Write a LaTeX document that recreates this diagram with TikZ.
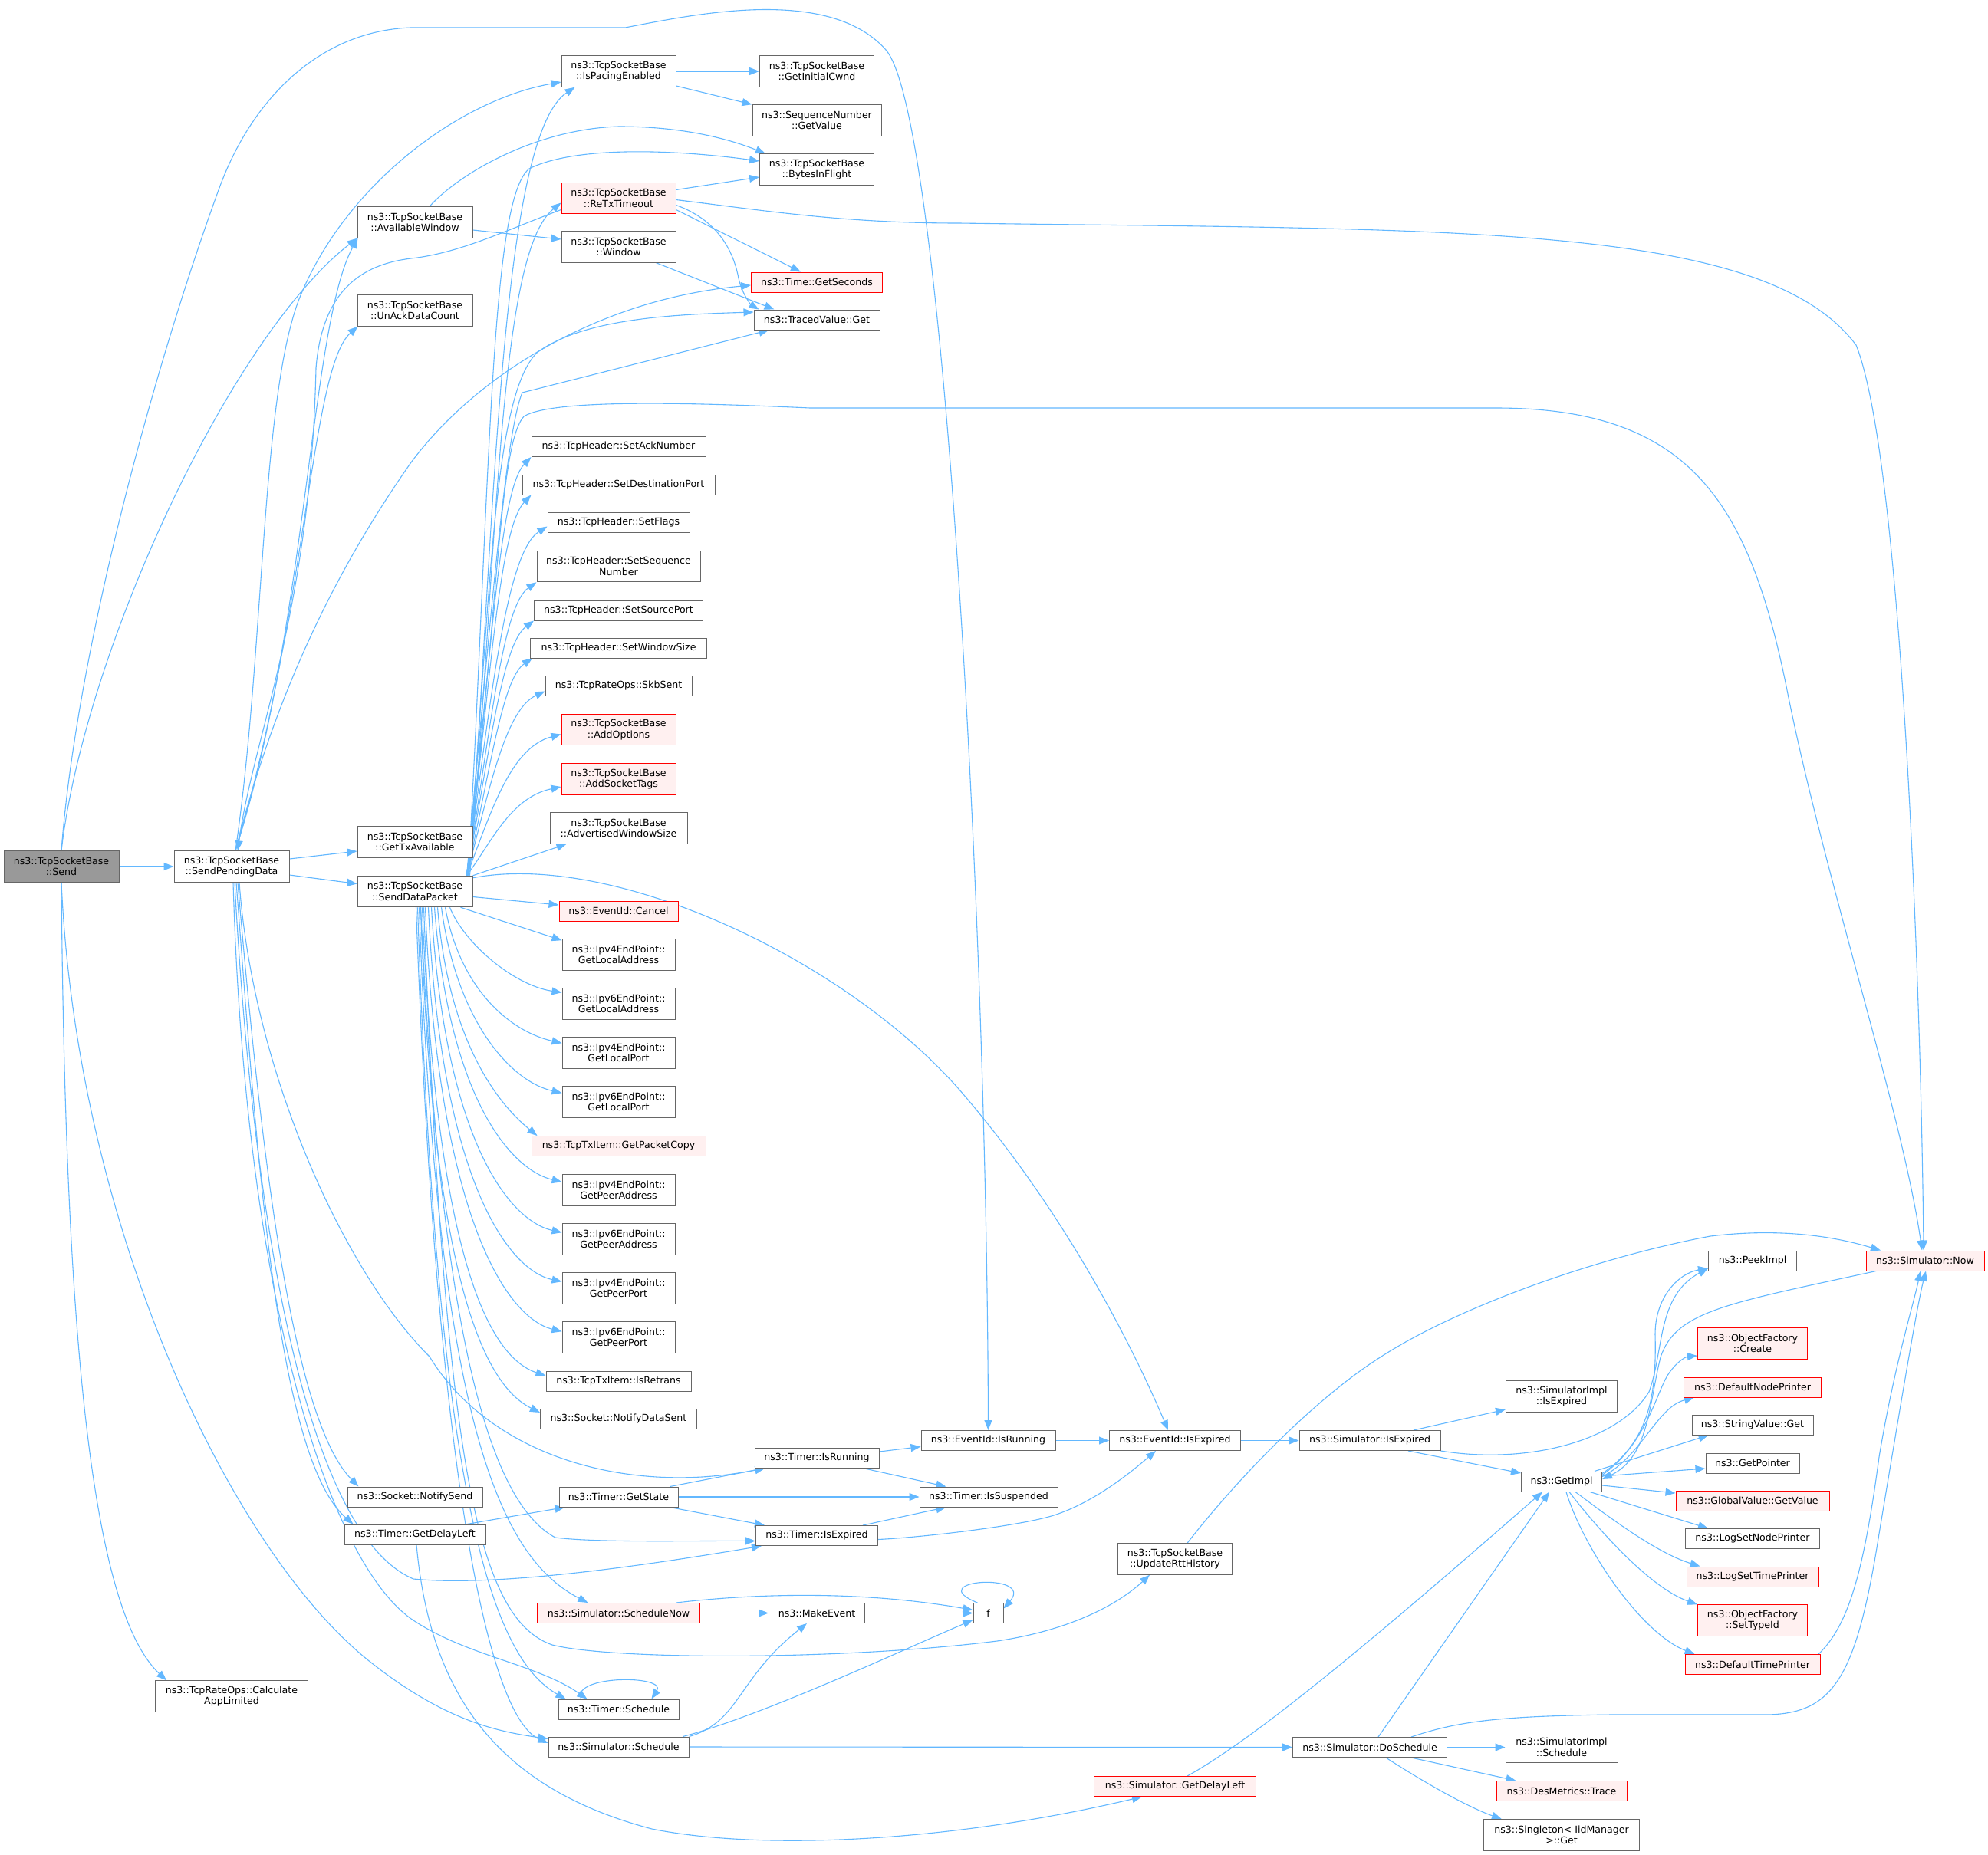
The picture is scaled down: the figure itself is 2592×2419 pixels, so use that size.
\documentclass[tikz,border=0pt]{standalone}
\usepackage{fontspec}
\setmainfont{DejaVu Sans}
\usetikzlibrary{arrows.meta}
\definecolor{edgec}{HTML}{63B8FF}
\definecolor{ndc}{HTML}{666666}
\definecolor{redc}{HTML}{FF0000}
\definecolor{redfill}{HTML}{FFF0F0}
\definecolor{rootfill}{HTML}{999999}
\newcommand\ndfont{\fontsize{12.6}{14.5}\selectfont}
\pgfdeclarelayer{bgfill}
\pgfdeclarelayer{edges}
\pgfsetlayers{bgfill,edges,main}
\tikzset{
  nd/.style={draw=ndc, fill=white, line width=1pt, inner sep=0pt, minimum height=26pt, align=center, font=\ndfont, text=black},
  two/.style={minimum height=40.5pt},
  rednd/.style={draw=redc, fill=redfill},
  rootnd/.style={fill=rootfill},
  e/.style={draw=edgec, line width=1.1pt, -{Triangle[length=13pt,width=10pt]}}
}
\begin{document}
\begin{tikzpicture}[x=1pt,y=-1pt]
\useasboundingbox (0,0) rectangle (2592,2419);
\begin{pgfonlayer}{bgfill}
\fill[white] (0,0) rectangle (2592,2419);
\end{pgfonlayer}
% ---------- nodes ----------
\node[nd,two,rootnd,minimum width=150pt] (send) at (80,1130) {ns3::TcpSocketBase\\::Send};
\node[nd,two,minimum width=150pt] (spd) at (302,1130) {ns3::TcpSocketBase\\::SendPendingData};
\node[nd,two,minimum width=150pt] (avw) at (541,290) {ns3::TcpSocketBase\\::AvailableWindow};
\node[nd,two,minimum width=150pt] (unack) at (541,405) {ns3::TcpSocketBase\\::UnAckDataCount};
\node[nd,two,minimum width=150pt] (gettx) at (541,1098) {ns3::TcpSocketBase\\::GetTxAvailable};
\node[nd,two,minimum width=150pt] (sdp) at (541,1162.5) {ns3::TcpSocketBase\\::SendDataPacket};
\node[nd,minimum width=176pt] (notifysend) at (541,1952) {ns3::Socket::NotifySend};
\node[nd,minimum width=184pt] (tgdl) at (541,2001) {ns3::Timer::GetDelayLeft};
\node[nd,two,minimum width=199pt] (calc) at (302,2212) {ns3::TcpRateOps::Calculate\\AppLimited};
\node[nd,two,minimum width=149pt] (ispacing) at (806.5,93) {ns3::TcpSocketBase\\::IsPacingEnabled};
\node[nd,two,rednd,minimum width=149pt] (retx) at (806.5,258.5) {ns3::TcpSocketBase\\::ReTxTimeout};
\node[nd,two,minimum width=149pt] (window) at (806.5,322) {ns3::TcpSocketBase\\::Window};
\node[nd,minimum width=227pt] (setack) at (806.5,582.5) {ns3::TcpHeader::SetAckNumber};
\node[nd,minimum width=251pt] (setdst) at (806.5,632) {ns3::TcpHeader::SetDestinationPort};
\node[nd,minimum width=185pt] (setflags) at (806.5,681.5) {ns3::TcpHeader::SetFlags};
\node[nd,two,minimum width=213pt] (setseq) at (806.5,738.5) {ns3::TcpHeader::SetSequence\\Number};
\node[nd,minimum width=220pt] (setsrc) at (806.5,796) {ns3::TcpHeader::SetSourcePort};
\node[nd,minimum width=230pt] (setwin) at (806.5,845) {ns3::TcpHeader::SetWindowSize};
\node[nd,minimum width=191pt] (skb) at (806.5,894.5) {ns3::TcpRateOps::SkbSent};
\node[nd,two,rednd,minimum width=149pt] (addopt) at (806.5,951.5) {ns3::TcpSocketBase\\::AddOptions};
\node[nd,two,rednd,minimum width=149pt] (addtags) at (806.5,1016) {ns3::TcpSocketBase\\::AddSocketTags};
\node[nd,two,minimum width=179pt] (advwin) at (806.5,1080) {ns3::TcpSocketBase\\::AdvertisedWindowSize};
\node[nd,rednd,minimum width=155pt] (cancel) at (806.5,1188) {ns3::EventId::Cancel};
\node[nd,two,minimum width=147pt] (v4la) at (806.5,1245) {ns3::Ipv4EndPoint::\\GetLocalAddress};
\node[nd,two,minimum width=147pt] (v6la) at (806.5,1309) {ns3::Ipv6EndPoint::\\GetLocalAddress};
\node[nd,two,minimum width=147pt] (v4lp) at (806.5,1373) {ns3::Ipv4EndPoint::\\GetLocalPort};
\node[nd,two,minimum width=147pt] (v6lp) at (806.5,1437) {ns3::Ipv6EndPoint::\\GetLocalPort};
\node[nd,rednd,minimum width=227pt] (pktcopy) at (806.5,1494.5) {ns3::TcpTxItem::GetPacketCopy};
\node[nd,two,minimum width=147pt] (v4pa) at (806.5,1552) {ns3::Ipv4EndPoint::\\GetPeerAddress};
\node[nd,two,minimum width=147pt] (v6pa) at (806.5,1616) {ns3::Ipv6EndPoint::\\GetPeerAddress};
\node[nd,two,minimum width=147pt] (v4pp) at (806.5,1680) {ns3::Ipv4EndPoint::\\GetPeerPort};
\node[nd,two,minimum width=147pt] (v6pp) at (806.5,1744) {ns3::Ipv6EndPoint::\\GetPeerPort};
\node[nd,minimum width=189pt] (isretrans) at (806.5,1801) {ns3::TcpTxItem::IsRetrans};
\node[nd,minimum width=204pt] (notifyds) at (806.5,1850) {ns3::Socket::NotifyDataSent};
\node[nd,minimum width=155pt] (getstate) at (806.5,1952) {ns3::Timer::GetState};
\node[nd,rednd,minimum width=212pt] (schednow) at (806.5,2103.5) {ns3::Simulator::ScheduleNow};
\node[nd,minimum width=157pt] (tsched) at (806.5,2229) {ns3::Timer::Schedule};
\node[nd,minimum width=183pt] (ssched) at (806.5,2278) {ns3::Simulator::Schedule};
\node[nd,two,minimum width=149pt] (initcwnd) at (1065,93) {ns3::TcpSocketBase\\::GetInitialCwnd};
\node[nd,two,minimum width=168pt] (seqval) at (1065,157) {ns3::SequenceNumber\\::GetValue};
\node[nd,two,minimum width=149pt] (bif) at (1065,221) {ns3::TcpSocketBase\\::BytesInFlight};
\node[nd,rednd,minimum width=171pt] (getsec) at (1065,368) {ns3::Time::GetSeconds};
\node[nd,minimum width=164pt] (tvget) at (1065,417) {ns3::TracedValue::Get};
\node[nd,minimum width=162pt] (tisrun) at (1065,1901) {ns3::Timer::IsRunning};
\node[nd,minimum width=159pt] (tisexp) at (1065,2002.5) {ns3::Timer::IsExpired};
\node[nd,minimum width=125pt] (makeev) at (1065,2103.5) {ns3::MakeEvent};
\node[nd,minimum width=175pt] (eisrun) at (1288.5,1878.5) {ns3::EventId::IsRunning};
\node[nd,minimum width=180pt] (tissusp) at (1289,1952) {ns3::Timer::IsSuspended};
\node[nd,minimum width=39pt] (f) at (1288.5,2103.5) {f};
\node[nd,minimum width=171pt] (eisexp) at (1532,1878.5) {ns3::EventId::IsExpired};
\node[nd,two,minimum width=149pt] (rtt) at (1532,2033) {ns3::TcpSocketBase\\::UpdateRttHistory};
\node[nd,rednd,minimum width=211pt] (sgdl) at (1532,2329.5) {ns3::Simulator::GetDelayLeft};
\node[nd,minimum width=184pt] (sisexp) at (1786,1878.5) {ns3::Simulator::IsExpired};
\node[nd,minimum width=201pt] (dosched) at (1786,2278.5) {ns3::Simulator::DoSchedule};
\node[nd,two,minimum width=145pt] (siisexp) at (2036,1821) {ns3::SimulatorImpl\\::IsExpired};
\node[nd,minimum width=105pt] (getimpl) at (2036,1932) {ns3::GetImpl};
\node[nd,two,minimum width=146pt] (sisched) at (2036,2278.5) {ns3::SimulatorImpl\\::Schedule};
\node[nd,rednd,minimum width=170pt] (trace) at (2036,2335.5) {ns3::DesMetrics::Trace};
\node[nd,two,minimum width=203pt] (singleton) at (2036,2393) {ns3::Singleton< IidManager\\>::Get};
\node[nd,minimum width=115pt] (peek) at (2285,1644) {ns3::PeekImpl};
\node[nd,rednd,minimum width=154pt] (now) at (2510,1644) {ns3::Simulator::Now};
\node[nd,two,rednd,minimum width=143pt] (ofcreate) at (2285,1752) {ns3::ObjectFactory\\::Create};
\node[nd,rednd,minimum width=179pt] (defnode) at (2285,1809) {ns3::DefaultNodePrinter};
\node[nd,minimum width=158pt] (strget) at (2285,1858) {ns3::StringValue::Get};
\node[nd,minimum width=122pt] (getptr) at (2285,1908) {ns3::GetPointer};
\node[nd,rednd,minimum width=200pt] (gvget) at (2285,1957) {ns3::GlobalValue::GetValue};
\node[nd,minimum width=175pt] (lognode) at (2285,2006.5) {ns3::LogSetNodePrinter};
\node[nd,rednd,minimum width=172pt] (logtime) at (2285,2056) {ns3::LogSetTimePrinter};
\node[nd,two,rednd,minimum width=143pt] (ofsettype) at (2285,2113) {ns3::ObjectFactory\\::SetTypeId};
\node[nd,rednd,minimum width=176pt] (deftime) at (2285,2170.5) {ns3::DefaultTimePrinter};
% ---------- edges ----------
\begin{pgfonlayer}{edges}
% Send
\draw[e] (send.east) -- (spd.west);
\draw[e] (send.north) .. controls (110,850) and (300,440) .. (avw.south west);
\draw[e] (send.north) .. controls (100,850) and (200,480) .. (286,245) .. controls (330,125) and (420,40) .. (536,36) -- (815,36) .. controls (900,20) and (1080,-20) .. (1155,65) .. controls (1230,150) and (1287,1200) .. (eisrun.north);
\draw[e] (send.south) .. controls (100,1600) and (300,2020) .. (480,2165) .. controls (580,2245) and (650,2258) .. ([yshift=-3pt]ssched.north west);
\draw[e] (send.south) .. controls (85,1750) and (120,2100) .. ([xshift=15pt]calc.north west);
% SendPendingData
\draw[e] ([yshift=10pt]spd.east) -- ([yshift=-12pt]gettx.west);
\draw[e] ([yshift=-11pt]spd.east) -- ([yshift=10pt]sdp.west);
\draw[e] ([xshift=5pt]spd.north) .. controls (400,820) and (405,420) .. ([xshift=1pt]avw.south west);
\draw[e] ([xshift=5pt]spd.north) .. controls (400,800) and (405,480) .. ([xshift=1pt]unack.south west);
\draw[e] ([xshift=5pt]spd.north) .. controls (345,850) and (340,520) .. (390,390) .. controls (450,240) and (600,130) .. ([yshift=-14pt]ispacing.west);
\draw[e] ([xshift=5pt]spd.north) .. controls (360,900) and (440,740) .. (536,603) .. controls (620,490) and (780,390) .. ([yshift=-4pt]getsec.west);
\draw[e] ([xshift=8pt]spd.south) .. controls (340,1500) and (380,1850) .. ([xshift=15pt]notifysend.north west);
\draw[e] ([xshift=6pt]spd.south) .. controls (335,1500) and (360,1900) .. ([xshift=12pt]tgdl.north west);
\draw[e] ([xshift=10pt]spd.south) .. controls (330,1400) and (450,1660) .. (560,1769) .. controls (640,1900) and (820,1950) .. ([xshift=14pt]tisrun.south west);
\draw[e] ([xshift=4pt]spd.south) .. controls (330,1600) and (400,2000) .. (539,2059) .. controls (650,2070) and (850,2040) .. ([xshift=8pt]tisexp.south west);
\draw[e] ([xshift=2pt]spd.south) .. controls (320,1700) and (430,2040) .. (539,2113) .. controls (610,2160) and (700,2170) .. ([xshift=38pt]tsched.north west);
% SendDataPacket upward
\draw[e] ([xshift=-5pt]sdp.north east) .. controls (645,700) and (650,180) .. ([xshift=18pt]ispacing.south west);
\draw[e] ([xshift=-4pt]sdp.north east) .. controls (650,700) and (650,330) .. ([yshift=-6pt]retx.west);
\draw[e] ([xshift=-6pt]sdp.north east) .. controls (640,600) and (640,260) .. (690,220) .. controls (750,190) and (880,195) .. ([yshift=11pt]bif.west);
\draw[e] ([xshift=-8pt]sdp.north east) .. controls (640,800) and (660,560) .. (681,512) -- ([xshift=20pt]tvget.south west);
\draw[e] ([xshift=-7pt]sdp.north east) .. controls (640,800) and (640,520) .. (700,460) .. controls (760,415) and (880,410) .. ([yshift=10pt]tvget.west);
\draw[e] ([xshift=-8pt]sdp.north east) .. controls (650,800) and (650,580) .. (683,543) .. controls (720,520) and (900,525) .. (1056,532) -- (1950,532) .. controls (2200,532) and (2280,650) .. (2330,900) .. controls (2380,1150) and (2480,1450) .. ([xshift=-4pt]now.north);
\draw[e] ([xshift=-8pt]sdp.north east) .. controls (640,870) and (650,640) .. (setack.south west);
\draw[e] ([xshift=-8pt]sdp.north east) .. controls (640,890) and (650,690) .. ([xshift=12pt]setdst.south west);
\draw[e] ([xshift=-8pt]sdp.north east) .. controls (640,910) and (660,720) .. ([yshift=-5pt]setflags.west);
\draw[e] ([xshift=-8pt]sdp.north east) .. controls (640,950) and (655,790) .. (setseq.south west);
\draw[e] ([xshift=-8pt]sdp.north east) .. controls (640,970) and (655,840) .. (setsrc.south west);
\draw[e] ([xshift=-8pt]sdp.north east) .. controls (640,1000) and (655,885) .. ([xshift=3pt]setwin.south west);
\draw[e] ([xshift=-8pt]sdp.north east) .. controls (640,1020) and (660,925) .. ([yshift=-7pt]skb.west);
\draw[e] ([xshift=-8pt]sdp.north east) .. controls (640,1060) and (665,975) .. ([yshift=-6pt]addopt.west);
\draw[e] ([xshift=-8pt]sdp.north east) .. controls (640,1100) and (665,1040) .. ([yshift=-10pt]addtags.west);
\draw[e] (sdp.north east) -- ([xshift=22pt]advwin.south west);
\draw[e] ([yshift=-7pt]sdp.east) -- ([yshift=8pt]cancel.west);
\draw[e] ([yshift=-3pt]sdp.north east) .. controls (800,1110) and (1100,1250) .. (1250,1420) .. controls (1380,1570) and (1470,1740) .. ([xshift=-9pt]eisexp.north);
% SendDataPacket downward
\draw[e] ([xshift=-16pt]sdp.south east) -- ([yshift=-2pt]v4la.north west);
\draw[e] ([xshift=-30pt]sdp.south east) .. controls (605,1230) and (670,1285) .. ([yshift=-6pt]v6la.north west);
\draw[e] ([xshift=-36pt]sdp.south east) .. controls (600,1290) and (665,1345) .. ([yshift=-8pt]v4lp.north west);
\draw[e] ([xshift=-41pt]sdp.south east) .. controls (595,1330) and (665,1410) .. ([yshift=-9pt]v6lp.north west);
\draw[e] ([xshift=-46pt]sdp.south east) .. controls (585,1360) and (650,1440) .. ([xshift=8pt]pktcopy.north west);
\draw[e] ([xshift=-50pt]sdp.south east) .. controls (585,1430) and (665,1525) .. ([yshift=-10pt]v4pa.north west);
\draw[e] ([xshift=-54pt]sdp.south east) .. controls (580,1490) and (665,1592) .. ([yshift=-12pt]v6pa.north west);
\draw[e] ([xshift=-58pt]sdp.south east) .. controls (575,1545) and (665,1657) .. ([yshift=-12pt]v4pp.north west);
\draw[e] ([xshift=-62pt]sdp.south east) .. controls (572,1600) and (665,1720) .. ([yshift=-13pt]v6pp.north west);
\draw[e] ([xshift=-66pt]sdp.south east) .. controls (570,1650) and (640,1770) .. ([yshift=7pt]isretrans.west);
\draw[e] ([xshift=-68pt]sdp.south east) .. controls (565,1700) and (640,1810) .. ([yshift=8pt]notifyds.west);
\draw[e] ([xshift=-70pt]sdp.south east) .. controls (570,1850) and (650,2030) .. ([xshift=-40pt]schednow.north);
\draw[e] ([xshift=-72pt]sdp.south east) .. controls (570,1950) and (640,2160) .. ([xshift=10pt]tsched.north west);
\draw[e] ([xshift=-74pt]sdp.south east) .. controls (570,1950) and (640,2240) .. ([yshift=5pt]ssched.west);
\draw[e] ([xshift=-68pt]sdp.south east) .. controls (575,1750) and (640,1960) .. (724,2005) .. controls (780,2012) and (900,2009) .. ([yshift=-7pt]tisexp.west);
\draw[e] ([xshift=-64pt]sdp.south east) .. controls (580,1900) and (620,2110) .. (720,2145) .. controls (800,2165) and (1100,2165) .. (1300,2140) .. controls (1400,2125) and (1460,2090) .. ([xshift=42pt]rtt.south west);
% ReTxTimeout
\draw[e] ([yshift=11pt]retx.east) -- ([yshift=-10pt]bif.west);
\draw[e] ([yshift=-15pt]retx.east) -- ([xshift=-21pt]getsec.north);
\draw[e] ([yshift=-9pt]retx.east) .. controls (930,285) and (955,320) .. (963,363) .. controls (968,385) and (980,398) .. ([xshift=7pt]tvget.north west);
\draw[e] ([yshift=-2pt]retx.east) .. controls (1000,275) and (1100,291) .. (1250,291) .. controls (1900,300) and (2300,290) .. (2420,450) .. controls (2480,600) and (2505,1300) .. ([xshift=-2pt]now.north);
\draw[e] ([yshift=-15pt]retx.west) .. controls (660,300) and (600,330) .. (536,337) .. controls (470,345) and (420,380) .. (412,480) .. controls (405,800) and (330,960) .. ([xshift=8pt]spd.north);
% Window, AvailableWindow, IsPacingEnabled
\draw[e] ([xshift=49pt]window.south) -- ([xshift=27pt]tvget.north west);
\draw[e] ([yshift=-10pt]avw.east) -- ([yshift=10pt]window.west);
\draw[e] ([xshift=19pt]avw.north) .. controls (600,225) and (700,168) .. (807,165) .. controls (900,165) and (960,185) .. ([xshift=8pt]bif.north west);
\draw[e] (ispacing.east) -- (initcwnd.west);
\draw[e] ([yshift=-19pt]ispacing.east) -- (seqval.north west);
% Timer / scheduling cluster
\draw[e] ([xshift=68pt]tgdl.north) -- ([xshift=8pt]getstate.south west);
\draw[e] ([xshift=2pt]tgdl.south) .. controls (560,2200) and (640,2330) .. (850,2385) .. controls (1000,2415) and (1250,2400) .. ([xshift=63pt]sgdl.south west);
\draw[e] ([xshift=67pt]getstate.north) -- ([xshift=14pt]tisrun.south west);
\draw[e] (getstate.east) -- (tissusp.west);
\draw[e] ([xshift=67pt]getstate.south) -- ([xshift=12pt]tisexp.north west);
\draw[e] ([yshift=8pt]tisrun.east) -- ([yshift=-8pt]eisrun.west);
\draw[e] ([xshift=60pt]tisrun.south) -- ([xshift=35pt]tissusp.north west);
\draw[e] ([xshift=60pt]tisexp.north) -- ([xshift=35pt]tissusp.south west);
\draw[e] ([yshift=-5pt]tisexp.east) .. controls (1200,2005) and (1330,1990) .. (1374,1976) .. controls (1430,1958) and (1480,1915) .. ([xshift=-25pt]eisexp.south);
\draw[e] (schednow.east) -- (makeev.west);
\draw[e] ([xshift=75pt]schednow.north) .. controls (950,2082) and (1100,2070) .. ([yshift=4pt]f.west);
\draw[e] (makeev.east) -- (f.west);
\draw[e] ([xshift=84pt]ssched.north) .. controls (1000,2235) and (1180,2150) .. ([yshift=-9pt]f.west);
\draw[e] (ssched.north east) .. controls (965,2245) and (960,2190) .. ([xshift=-13pt]makeev.south);
\draw[e] (ssched.east) -- (dosched.west);
\draw[e] ([xshift=-49pt]tsched.north) .. controls (745,2184) and (870,2184) .. ([xshift=43pt]tsched.north);
\draw[e] ([xshift=-14pt]f.north) .. controls (1200,2060) and (1350,2050) .. ([yshift=6pt]f.east);
\draw[e] ([xshift=16pt]rtt.north) .. controls (1620,1920) and (1720,1820) .. (1801,1769) .. controls (1900,1705) and (2080,1640) .. (2230,1612) .. controls (2330,1600) and (2400,1615) .. ([xshift=-58pt]now.north);
\draw[e] (eisrun.east) -- (eisexp.west);
\draw[e] (eisexp.east) -- (sisexp.west);
\draw[e] ([xshift=57pt]sisexp.north) -- ([yshift=-17pt]siisexp.west);
\draw[e] ([xshift=50pt]sisexp.south) -- ([yshift=11pt]getimpl.west);
\draw[e] (sisexp.south east) .. controls (1990,1910) and (2110,1880) .. (2150,1815) .. controls (2170,1760) and (2160,1690) .. ([yshift=-10pt]peek.west);
% GetImpl cluster
\draw[e] ([yshift=-3pt]getimpl.north east) .. controls (2150,1880) and (2160,1820) .. (2158,1740) .. controls (2158,1690) and (2190,1660) .. ([yshift=-10pt]peek.west);
\draw[e] ([yshift=-5pt]getimpl.north east) .. controls (2150,1880) and (2160,1810) .. (2178,1788) .. controls (2190,1772) and (2200,1769) .. ([yshift=-16pt]ofcreate.west);
\draw[e] ([yshift=-7pt]getimpl.north east) .. controls (2140,1900) and (2160,1835) .. ([xshift=14pt]defnode.south west);
\draw[e] ([xshift=-10pt]getimpl.north east) -- ([xshift=22pt]strget.south west);
\draw[e] ([yshift=7pt]getimpl.east) -- ([yshift=-7pt]getptr.west);
\draw[e] ([yshift=-5pt]getimpl.east) -- ([yshift=10pt]gvget.west);
\draw[e] ([xshift=-16pt]getimpl.south east) -- ([xshift=30pt]lognode.north west);
\draw[e] ([xshift=-35pt]getimpl.south east) .. controls (2100,1980) and (2160,2025) .. ([xshift=18pt]logtime.north west);
\draw[e] ([xshift=-43pt]getimpl.south east) .. controls (2080,1990) and (2150,2070) .. (ofsettype.north west);
\draw[e] ([xshift=-47pt]getimpl.south east) .. controls (2065,2020) and (2140,2130) .. ([xshift=13pt]deftime.north west);
\draw[e] ([xshift=-64pt]now.south) .. controls (2250,1700) and (2185,1710) .. (2165,1770) .. controls (2150,1830) and (2150,1900) .. ([yshift=3pt]getimpl.east);
\draw[e] ([xshift=86pt]deftime.north) .. controls (2410,2120) and (2430,2050) .. (2450,1900) .. controls (2470,1780) and (2495,1700) .. ([xshift=-6pt]now.south);
\draw[e] ([xshift=54pt]dosched.north) .. controls (1900,2245) and (1950,2238) .. (2100,2236) -- (2300,2236) .. controls (2390,2236) and (2420,2190) .. (2450,2000) .. controls (2480,1820) and (2500,1700) .. ([xshift=1pt]now.south);
\draw[e] ([xshift=11pt]dosched.north) -- ([xshift=-16pt]getimpl.south);
\draw[e] ([xshift=16pt]sgdl.north) .. controls (1640,2265) and (1800,2130) .. ([xshift=-25pt]getimpl.south);
\draw[e] (dosched.east) -- (sisched.west);
\draw[e] ([xshift=54pt]dosched.south) -- ([xshift=26pt]trace.north west);
\draw[e] ([xshift=21pt]dosched.south) .. controls (1850,2320) and (1910,2355) .. ([xshift=24pt]singleton.north west);
\end{pgfonlayer}
\end{tikzpicture}
\end{document}
